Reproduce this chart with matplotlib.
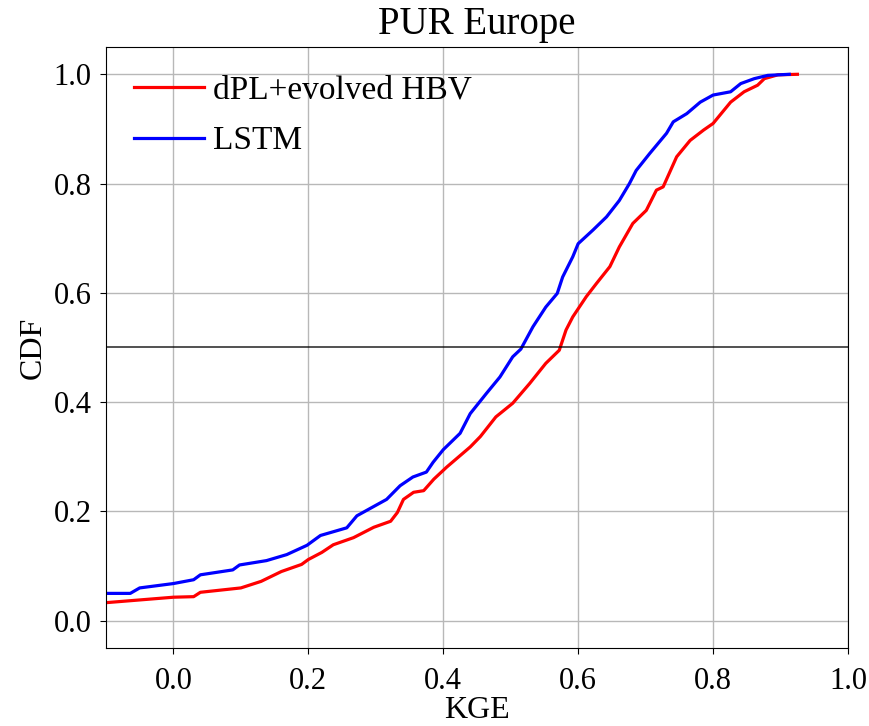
#!/usr/bin/env python3
"""
CDF of KGE for PUR Europe: dPL+evolved HBV vs LSTM
"""

import matplotlib
matplotlib.use('Agg')
import matplotlib.pyplot as plt

plt.rcParams['font.family'] = ['Liberation Serif', 'DejaVu Serif']

# Values (KGE, CDF)
hbv_kge = [-0.10, -0.05, 0.00, 0.03, 0.04, 0.10, 0.13, 0.16, 0.19, 0.20, 0.22,
           0.237, 0.267, 0.297, 0.322, 0.332, 0.341, 0.356, 0.371, 0.386, 0.405,
           0.44, 0.455, 0.478, 0.503, 0.528, 0.552, 0.572, 0.582, 0.592, 0.612,
           0.627, 0.647, 0.661, 0.681, 0.701, 0.716, 0.726, 0.746, 0.766, 0.786,
           0.80, 0.826, 0.846, 0.866, 0.876, 0.896, 0.925]
hbv_cdf = [0.033, 0.038, 0.043, 0.044, 0.052, 0.060, 0.072, 0.090, 0.103, 0.112, 0.125,
           0.139, 0.152, 0.171, 0.182, 0.198, 0.222, 0.235, 0.238, 0.259, 0.281,
           0.318, 0.337, 0.373, 0.398, 0.434, 0.471, 0.495, 0.532, 0.556, 0.593,
           0.617, 0.648, 0.684, 0.727, 0.751, 0.788, 0.794, 0.849, 0.879, 0.898,
           0.910, 0.949, 0.968, 0.980, 0.992, 0.999, 1.000]

lstm_kge = [-0.10, -0.064, -0.05, 0.00, 0.03, 0.04, 0.088, 0.098, 0.138, 0.168, 0.198,
            0.218, 0.257, 0.272, 0.291, 0.316, 0.336, 0.355, 0.375, 0.385, 0.40,
            0.425, 0.44, 0.464, 0.484, 0.503, 0.515, 0.533, 0.552, 0.569, 0.577,
            0.592, 0.60, 0.622, 0.642, 0.661, 0.676, 0.686, 0.706, 0.731, 0.741,
            0.761, 0.781, 0.80, 0.826, 0.841, 0.861, 0.881, 0.913]
lstm_cdf = [0.050, 0.050, 0.060, 0.068, 0.075, 0.084, 0.093, 0.102, 0.110, 0.121, 0.138,
            0.156, 0.170, 0.192, 0.205, 0.222, 0.247, 0.263, 0.272, 0.290, 0.313,
            0.343, 0.379, 0.416, 0.446, 0.483, 0.497, 0.538, 0.574, 0.599, 0.629,
            0.666, 0.690, 0.715, 0.739, 0.769, 0.800, 0.824, 0.855, 0.892, 0.913,
            0.928, 0.949, 0.962, 0.968, 0.983, 0.992, 0.998, 1.000]

fig = plt.figure(figsize=(8.7, 7.26), dpi=100)
ax = fig.add_axes([0.1218, 0.1074, 0.8529, 0.8279])

ax.plot(hbv_kge, hbv_cdf, color='red', linewidth=2.3, label='dPL+evolved HBV')
ax.plot(lstm_kge, lstm_cdf, color='blue', linewidth=2.3, label='LSTM')
ax.axhline(y=0.5, color='black', linewidth=1.2, alpha=0.8)

ax.set_xlim(-0.1, 1.0)
ax.set_ylim(-0.05, 1.05)
ax.set_xticks([0.0, 0.2, 0.4, 0.6, 0.8, 1.0])
ax.set_yticks([0.0, 0.2, 0.4, 0.6, 0.8, 1.0])
ax.tick_params(labelsize=22, length=4.5)
ax.tick_params(axis='x', pad=9)
ax.tick_params(axis='y', pad=6)
ax.grid(True, color='#b8b8b8', linewidth=1)

ax.set_xlabel('KGE', fontsize=23, labelpad=0)
ax.set_ylabel('CDF', fontsize=23)
ax.set_title('PUR Europe', fontsize=28, pad=9)
ax.legend(loc='upper left', frameon=False, fontsize=24, handlelength=2.1,
          handletextpad=0.25, labelspacing=0.6, borderaxespad=0.45)

plt.savefig('out.png', dpi=100)
